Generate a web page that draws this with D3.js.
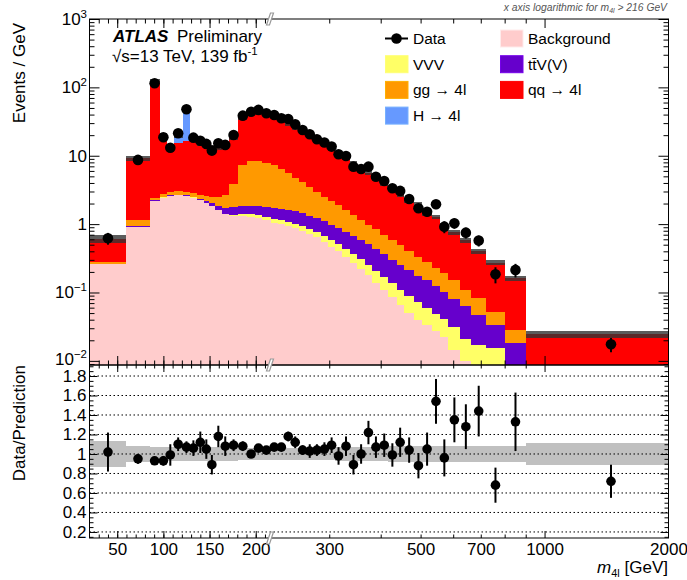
<!DOCTYPE html>
<html>
<head>
<meta charset="utf-8">
<script src="https://cdn.jsdelivr.net/npm/d3@7"></script>
<style>
  body { margin: 0; background: #fff; }
  svg text { font-family: "Liberation Sans", Arial, Helvetica, sans-serif; }
</style>
</head>
<body>
<svg id="chart" width="687" height="580"></svg>
<script>
// m4l bin edges in GeV (axis is linear below 216 GeV, logarithmic above)
var binEdges = [20, 60, 85, 96, 104, 111, 121, 129, 136, 144, 149, 156, 163, 171, 181, 191, 199, 207, 216,
  225, 234, 243, 253, 264, 274, 286, 298, 310, 322, 337, 350, 367, 380, 399, 417, 437, 455, 483, 505,
  532, 558, 584, 624, 664, 720, 800, 900, 2000];

// stacked predictions, events / GeV (bottom to top)
var background = [0.26, 0.92, 2.2, 2.45, 2.6, 2.65, 2.6, 2.45, 2.25, 2.05, 1.85, 1.6, 1.4, 1.33, 1.3, 1.28, 1.24, 1.15,
  1.05, 1.0, 0.94, 0.88, 0.8, 0.72, 0.64, 0.55, 0.47, 0.40, 0.33, 0.27, 0.22, 0.18, 0.14, 0.11, 0.085, 0.065, 0.05, 0.04,
  0.033, 0.027, 0.0226, 0.0146, 0.0099, 0.006, 0.0035, 0.002, 0.0005];
var vvv = [0.001, 0.002, 0.003, 0.005, 0.005, 0.005, 0.005, 0.005, 0.005, 0.005, 0.01, 0.01, 0.01, 0.05, 0.1, 0.11, 0.12, 0.13,
  0.14, 0.14, 0.14, 0.14, 0.135, 0.13, 0.125, 0.12, 0.11, 0.105, 0.1, 0.09, 0.085, 0.075, 0.068, 0.06, 0.052, 0.045, 0.038, 0.032,
  0.027, 0.022, 0.019, 0.017, 0.011, 0.011, 0.012, 0.006, 0.0008];
var ttv = [0.002, 0.02, 0.03, 0.04, 0.04, 0.05, 0.06, 0.07, 0.09, 0.12, 0.16, 0.22, 0.3, 0.38, 0.44, 0.48, 0.5, 0.52,
  0.54, 0.54, 0.53, 0.52, 0.5, 0.48, 0.46, 0.43, 0.4, 0.37, 0.34, 0.31, 0.28, 0.25, 0.22, 0.19, 0.165, 0.145, 0.125, 0.105,
  0.09, 0.075, 0.061, 0.05, 0.043, 0.03, 0.018, 0.010, 0.0015];
var ggZZ = [0.012, 0.2, 0.15, 0.25, 0.28, 0.3, 0.3, 0.32, 0.35, 0.4, 0.5, 0.7, 1.0, 2.1, 5.4, 6.5, 6.5, 6.1,
  5.62, 4.74, 3.92, 3.21, 2.63, 2.14, 1.76, 1.43, 1.19, 1.0, 0.82, 0.68, 0.565, 0.475, 0.41, 0.34, 0.288, 0.245, 0.197, 0.159,
  0.128, 0.106, 0.088, 0.07, 0.044, 0.035, 0.019, 0.0104, 0.004];
var qqZZ = [0.335, 8.06, 121.6, 17.25, 9.98, 12.4, 13.7, 13.55, 11.9, 11.6, 10.9, 10.4, 10.6, 14.5, 28.5, 35.7, 35.8, 32.3,
  29.6, 26.6, 23.7, 20.9, 18.8, 16.5, 13.7, 12.4, 10.3, 8.8, 7.6, 6.4, 5.26, 4.7, 3.78, 3.23, 2.79, 2.23, 1.83, 1.6,
  1.17, 1.04, 0.765, 0.61, 0.478, 0.317, 0.219, 0.133, 0.0175];
var higgs = [0, 0, 0, 0, 0.3, 4.0, 28, 1.0, 0.2, 0, 0, 0, 0, 0, 0, 0, 0, 0,
  0, 0, 0, 0, 0, 0, 0, 0, 0, 0, 0, 0, 0, 0, 0, 0, 0, 0, 0, 0,
  0, 0, 0, 0, 0, 0, 0, 0, 0];

// relative uncertainty of the prediction (hatched / grey band)
var systUnc = [0.13, 0.08, 0.07, 0.07, 0.07, 0.07, 0.07, 0.07, 0.07, 0.07, 0.07, 0.07, 0.07, 0.07, 0.06, 0.06, 0.06, 0.06,
  0.065, 0.065, 0.065, 0.065, 0.065, 0.065, 0.065, 0.065, 0.065, 0.07, 0.07, 0.07, 0.075, 0.075, 0.075, 0.075, 0.08, 0.08, 0.08, 0.08,
  0.08, 0.08, 0.085, 0.085, 0.085, 0.085, 0.085, 0.085, 0.11];

// observed data, events / GeV
var dataVals = [0.622, 8.7, 115, 18.6, 13.1, 21.3, 47.8, 18.4, 16.6, 14.9, 11.9, 15.2, 14.4, 20.1, 38.6, 44.1, 46.8, 41.8,
  39.5, 35.3, 34.4, 28.8, 23.8, 20.6, 17.4, 15.6, 13.6, 10.5, 9.9, 6.93, 6.41, 6.93, 4.94, 4.28, 3.35, 3.06, 2.33, 1.71,
  1.52, 1.95, 0.918, 1.03, 0.75, 0.574, 0.185, 0.214, 0.0175];
// data / prediction and its error
var ratioVals = [1.02, 0.95, 0.93, 0.93, 0.99, 1.10, 1.07, 1.06, 1.12, 1.05, 0.89, 1.18, 1.08, 1.09, 1.08, 1.00, 1.06, 1.04,
  1.07, 1.07, 1.18, 1.12, 1.04, 1.03, 1.04, 1.05, 1.09, 0.98, 1.08, 0.89, 1.00, 1.22, 1.07, 1.09, 0.99, 1.12, 1.04, 0.88,
  1.05, 1.54, 0.96, 1.35, 1.28, 1.44, 0.68, 1.33, 0.72];
var ratioErr = [0.2, 0.05, 0.02, 0.05, 0.11, 0.07, 0.06, 0.08, 0.11, 0.1, 0.1, 0.11, 0.1, 0.06, 0.05, 0.04, 0.04, 0.04,
  0.04, 0.04, 0.05, 0.06, 0.05, 0.07, 0.06, 0.07, 0.08, 0.09, 0.1, 0.1, 0.1, 0.12, 0.11, 0.12, 0.12, 0.15, 0.13, 0.13,
  0.17, 0.23, 0.19, 0.23, 0.23, 0.26, 0.18, 0.3, 0.17];

// axis ticks and labels
var xLabelsLin = [50, 100, 150, 200];
var xLabelsLog = [300, 500, 700, 1000, 2000];
var ratioLabels = [0.2, 0.4, 0.6, 0.8, 1, 1.2, 1.4, 1.6, 1.8];
var yMainLabels = [[0.01, "10", "\u22122"], [0.1, "10", "\u22121"], [1, "1", ""], [10, "10", ""], [100, "10", "2"], [1000, "10", "3"]];

var colors = {
  background: "#ffcccc", vvv: "#ffff66", ttv: "#6600cc", gg: "#ff9900", qq: "#ff0000", higgs: "#6699ff"
};

// layout
var L = 89.5, R = 668.5, XB = 270.5, T = 19, MB = 365, RB = 538;

var svg = d3.select("#chart");

// piecewise x: linear up to 216 GeV, log above
var xLin = d3.scaleLinear().domain([20, 216]).range([L, XB]);
var xLog = d3.scaleLog().domain([216, 2000]).range([XB, R]);
function x(m) { return m <= 216 ? xLin(m) : xLog(m); }

var y = d3.scaleLog().domain([0.0087, 1000]).range([MB, T]);
var yR = d3.scaleLinear().domain([0.138, 1.913]).range([RB, MB]);

var defs = svg.append("defs");
defs.append("clipPath").attr("id", "clipMain").append("rect")
  .attr("x", L).attr("y", T).attr("width", R - L).attr("height", MB - T);
defs.append("clipPath").attr("id", "clipRatio").append("rect")
  .attr("x", L).attr("y", MB).attr("width", R - L).attr("height", RB - MB);

var bins = binEdges.slice(0, -1).map(function (lo, i) {
  return { lo: lo, hi: binEdges[i + 1], c: (lo + binEdges[i + 1]) / 2 };
});

var keys = ["background", "vvv", "ttv", "gg", "qq", "higgs"];
var table = bins.map(function (b, i) {
  return { background: background[i], vvv: vvv[i], ttv: ttv[i], gg: ggZZ[i], qq: qqZZ[i], higgs: higgs[i] };
});
var stacked = d3.stack().keys(keys)(table);
var total = stacked[stacked.length - 1].map(function (d) { return d[1]; });

var lowV = 1e-4;
function yc(v) { return y(Math.max(v, lowV)); }

// ---- main panel: stacked histogram
var gMain = svg.append("g").attr("clip-path", "url(#clipMain)");
gMain.selectAll("g.layer")
  .data(stacked)
  .join("g")
  .attr("class", "layer")
  .attr("fill", function (d) { return colors[d.key]; })
  .attr("shape-rendering", "crispEdges")
  .selectAll("rect")
  .data(function (d) { return d; })
  .join("rect")
  .attr("x", function (d, i) { return x(bins[i].lo); })
  .attr("width", function (d, i) { return x(bins[i].hi) - x(bins[i].lo); })
  .attr("y", function (d) { return yc(d[1]); })
  .attr("height", function (d) { return yc(d[0]) - yc(d[1]); });

// uncertainty band on top of the stack
gMain.append("g")
  .attr("fill", "#333")
  .attr("fill-opacity", 0.8)
  .attr("shape-rendering", "crispEdges")
  .selectAll("rect")
  .data(bins)
  .join("rect")
  .attr("x", function (b) { return x(b.lo); })
  .attr("width", function (b) { return x(b.hi) - x(b.lo); })
  .attr("y", function (b, i) { return y(total[i] * (1 + systUnc[i])); })
  .attr("height", function (b, i) { return y(total[i] * (1 - systUnc[i])) - y(total[i] * (1 + systUnc[i])); });

// data points
var gData = svg.append("g");
gData.selectAll("line")
  .data(bins)
  .join("line")
  .attr("x1", function (b) { return x(b.c); })
  .attr("x2", function (b) { return x(b.c); })
  .attr("y1", function (b, i) { return y(dataVals[i] * (1 + ratioErr[i] / ratioVals[i])); })
  .attr("y2", function (b, i) { return y(dataVals[i] * (1 - ratioErr[i] / ratioVals[i])); })
  .attr("stroke", "#000")
  .attr("stroke-width", 2);
gData.selectAll("circle")
  .data(bins)
  .join("circle")
  .attr("cx", function (b) { return x(b.c); })
  .attr("cy", function (b, i) { return y(dataVals[i]); })
  .attr("r", 5.3)
  .attr("fill", "#000");

// ---- ratio panel
var gRatio = svg.append("g").attr("clip-path", "url(#clipRatio)");
gRatio.append("g")
  .attr("fill", "#c0c0c0")
  .attr("shape-rendering", "crispEdges")
  .selectAll("rect")
  .data(bins)
  .join("rect")
  .attr("x", function (b) { return x(b.lo); })
  .attr("width", function (b) { return x(b.hi) - x(b.lo); })
  .attr("y", function (b, i) { return yR(1 + systUnc[i]); })
  .attr("height", function (b, i) { return yR(1 - systUnc[i]) - yR(1 + systUnc[i]); });

gRatio.append("g")
  .selectAll("line")
  .data(ratioLabels)
  .join("line")
  .attr("x1", L).attr("x2", R)
  .attr("y1", function (d) { return yR(d); })
  .attr("y2", function (d) { return yR(d); })
  .attr("stroke", "#000")
  .attr("stroke-width", 1)
  .attr("stroke-dasharray", "1.5,2.5");

var gRData = svg.append("g");
gRData.selectAll("line")
  .data(bins)
  .join("line")
  .attr("x1", function (b) { return x(b.c); })
  .attr("x2", function (b) { return x(b.c); })
  .attr("y1", function (b, i) { return yR(ratioVals[i] + ratioErr[i]); })
  .attr("y2", function (b, i) { return yR(ratioVals[i] - ratioErr[i]); })
  .attr("stroke", "#000")
  .attr("stroke-width", 2);
gRData.selectAll("circle")
  .data(bins)
  .join("circle")
  .attr("cx", function (b) { return x(b.c); })
  .attr("cy", function (b, i) { return yR(ratioVals[i]); })
  .attr("r", 4.8)
  .attr("fill", "#000");

// ---- frames
svg.append("rect").attr("x", L).attr("y", T).attr("width", R - L).attr("height", MB - T)
  .attr("fill", "none").attr("stroke", "#000").attr("stroke-width", 1);
svg.append("rect").attr("x", L).attr("y", MB).attr("width", R - L).attr("height", RB - MB)
  .attr("fill", "none").attr("stroke", "#000").attr("stroke-width", 1);

// ---- axes (ticks drawn inside the frames)
function noDomain(g) { g.select(".domain").remove(); g.selectAll("text").remove(); }

var xMinorLin = d3.range(30, 216, 10);
var xMinorLog = [300, 400, 500, 600, 700, 800, 900];

function xTicks(yPos, dir, bigLen, smallLen) {
  var mk = dir === "down" ? d3.axisTop : d3.axisBottom;
  svg.append("g").attr("transform", "translate(0," + yPos + ")")
    .call(mk(xLin).tickValues(xMinorLin).tickSize(-smallLen)).call(noDomain);
  svg.append("g").attr("transform", "translate(0," + yPos + ")")
    .call(mk(xLin).tickValues([50, 100, 150, 200]).tickSize(-bigLen)).call(noDomain);
  svg.append("g").attr("transform", "translate(0," + yPos + ")")
    .call(mk(xLog).tickValues(xMinorLog).tickSize(-smallLen)).call(noDomain);
  svg.append("g").attr("transform", "translate(0," + yPos + ")")
    .call(mk(xLog).tickValues([1000]).tickSize(-bigLen)).call(noDomain);
}
xTicks(T, "down", 9, 4.5);
xTicks(MB, "up", 9, 4.5);
xTicks(MB, "down", 7, 3.5);
xTicks(RB, "up", 7, 3.5);

// main y ticks, both sides
var yAll = y.ticks();
var yMaj = yAll.filter(function (v) { return Math.abs(Math.log10(v) - Math.round(Math.log10(v))) < 1e-6; });
var yMin = yAll.filter(function (v) { return yMaj.indexOf(v) < 0; });
[[d3.axisLeft, L], [d3.axisRight, R]].forEach(function (a) {
  svg.append("g").attr("transform", "translate(" + a[1] + ",0)")
    .call(a[0](y).tickValues(yMin).tickSize(-5)).call(noDomain);
  svg.append("g").attr("transform", "translate(" + a[1] + ",0)")
    .call(a[0](y).tickValues(yMaj).tickSize(-10)).call(noDomain);
});

// ratio y ticks, both sides
var rAll = yR.ticks(40);
var rMin = rAll.filter(function (v) { return ratioLabels.indexOf(+v.toFixed(2)) < 0; });
[[d3.axisLeft, L], [d3.axisRight, R]].forEach(function (a) {
  svg.append("g").attr("transform", "translate(" + a[1] + ",0)")
    .call(a[0](yR).tickValues(rMin).tickSize(-4)).call(noDomain);
  svg.append("g").attr("transform", "translate(" + a[1] + ",0)")
    .call(a[0](yR).tickValues(ratioLabels).tickSize(-8)).call(noDomain);
});

// ratio y labels
svg.append("g").attr("transform", "translate(" + L + ",0)")
  .call(d3.axisLeft(yR).tickValues(ratioLabels).tickSize(0).tickPadding(3)
    .tickFormat(function (d) { return d === 1 ? "1" : d3.format(".1f")(d); }))
  .call(function (g) {
    g.select(".domain").remove();
    g.attr("font-size", 17);
    g.selectAll("text").attr("fill", "#000");
  });

// main y labels with exponents
var yLab = svg.append("g").attr("font-size", 17).attr("text-anchor", "end");
yMainLabels.forEach(function (l) {
  var t = yLab.append("text").attr("x", 87).attr("y", Math.min(y(l[0]) + 6, 365));
  t.append("tspan").text(l[1]);
  if (l[2]) t.append("tspan").attr("dy", -7).attr("font-size", 11.5).text(l[2]);
});

// x labels
[[xLin, xLabelsLin], [xLog, xLabelsLog]].forEach(function (a) {
  svg.append("g").attr("transform", "translate(0," + RB + ")")
    .call(d3.axisBottom(a[0]).tickValues(a[1]).tickSize(0).tickPadding(5).tickFormat(d3.format("d")))
    .call(function (g) {
      g.select(".domain").remove();
      g.attr("font-size", 17);
      g.selectAll("text").attr("fill", "#000");
    });
});

// axis break marks
function breakMark(yPos) {
  svg.append("path")
    .attr("d", "M" + (XB - 4) + "," + (yPos + 6) + " L" + XB + "," + (yPos - 6) +
      " L" + (XB + 3) + "," + (yPos - 6) + " L" + (XB - 1) + "," + (yPos + 6) + " Z")
    .attr("fill", "#fff").attr("stroke", "#999").attr("stroke-width", 1.2);
}
breakMark(T);
breakMark(MB);
breakMark(RB);

// ---- titles
svg.append("text")
  .attr("transform", "translate(25,23) rotate(-90)")
  .attr("text-anchor", "end").attr("font-size", 17)
  .text("Events / GeV");
svg.append("text")
  .attr("transform", "translate(25,365) rotate(-90)")
  .attr("text-anchor", "end").attr("font-size", 17)
  .text("Data/Prediction");

var xt = svg.append("text").attr("x", 668).attr("y", 573).attr("text-anchor", "end").attr("font-size", 17);
xt.append("tspan").attr("font-style", "italic").text("m");
xt.append("tspan").attr("dy", 4).attr("font-size", 11).text("4l");
xt.append("tspan").attr("dy", -4).text(" [GeV]");

var note = svg.append("text").attr("x", 667).attr("y", 11).attr("text-anchor", "end")
  .attr("font-size", 10.3).attr("font-style", "italic").attr("fill", "#555");
note.append("tspan").text("x axis logarithmic for m");
note.append("tspan").attr("dy", 2).attr("font-size", 7).text("4l");
note.append("tspan").attr("dy", -2).text("  > 216 GeV");

var atl = svg.append("text").attr("x", 113).attr("y", 41.5).attr("font-size", 17);
atl.append("tspan").attr("font-weight", "bold").attr("font-style", "italic").text("ATLAS");
atl.append("tspan").attr("x", 177).text("Preliminary");

var en = svg.append("text").attr("x", 112).attr("y", 62).attr("font-size", 17);
en.append("tspan").text("\u221As=13 TeV, 139 fb");
en.append("tspan").attr("dy", -7).attr("font-size", 11.5).text("-1");

// ---- legend
var legendItems = [
  { key: "data", label: "Data", col: 0, row: 0 },
  { key: "background", label: "Background", col: 1, row: 0 },
  { key: "vvv", label: "VVV", col: 0, row: 1 },
  { key: "ttv", label: "tt\u0304V(V)", col: 1, row: 1 },
  { key: "gg", label: "gg \u2192 4l", col: 0, row: 2 },
  { key: "qq", label: "qq \u2192 4l", col: 1, row: 2 },
  { key: "higgs", label: "H \u2192 4l", col: 0, row: 3 }
];
var legX = [385, 500], legY0 = 38.5, legDY = 25.7;
var leg = svg.append("g").selectAll("g").data(legendItems).join("g")
  .attr("transform", function (d) { return "translate(" + legX[d.col] + "," + (legY0 + d.row * legDY) + ")"; });
leg.each(function (d) {
  var g = d3.select(this);
  if (d.key === "data") {
    g.append("line").attr("x1", 0).attr("x2", 23).attr("stroke", "#000").attr("stroke-width", 2);
    g.append("circle").attr("cx", 11.5).attr("r", 5.3).attr("fill", "#000");
  } else {
    g.append("rect").attr("x", 0.5).attr("y", -8.5).attr("width", 22.5).attr("height", 17)
      .attr("fill", colors[d.key]).attr("stroke", d3.color(colors[d.key]).brighter(0.4)).attr("stroke-width", 1);
  }
  g.append("text").attr("x", 28).attr("y", 5.5).attr("font-size", 15.5).text(d.label);
});
</script>
</body>
</html>
